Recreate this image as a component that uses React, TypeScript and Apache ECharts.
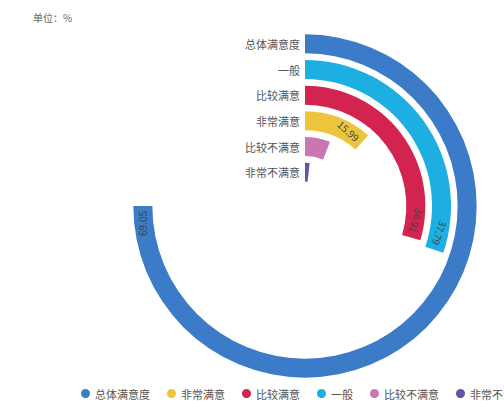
import React, { useEffect, useRef } from "react";
import * as echarts from "echarts";

// radial order, outermost first
const categories = ["总体满意度", "一般", "比较满意", "非常满意", "比较不满意", "非常不满意"];
// legend / series order
const seriesNames = ["总体满意度", "非常满意", "比较满意", "一般", "比较不满意", "非常不满意"];
// arc length of each bar as drawn (percent of a full turn)
const arcValues = [75, 11.6, 29.6, 30.2, 5.9, 1.7];
// printed value labels
const labelValues = ["69.05", "15.99", "36.91", "37.79", "", ""];
const colors = ["#3b7bc7", "#ecc43e", "#d3234f", "#1eafe2", "#c877b2", "#5c5aa7"];
const unitTitle = "单位：%";

const FONT = "'Noto Sans CJK SC', 'Noto Sans', sans-serif";

export default function App() {
  const ref = useRef<HTMLDivElement>(null);
  useEffect(() => {
    document.body.style.margin = "0";
    document.body.style.overflow = "hidden";
    const chart = echarts.init(ref.current!, undefined, { renderer: "svg" });
    const series = seriesNames.map((name, i) => {
      const idx = categories.indexOf(name);
      const data = categories.map((_, j) => (j === idx ? arcValues[i] : null));
      return {
        type: "bar",
        name,
        coordinateSystem: "polar",
        stack: "all",
        barWidth: 19,
        itemStyle: { color: colors[i] },
        data,
        label: {
          show: labelValues[i] !== "",
          position: "insideEnd",
          formatter: () => labelValues[i],
          color: "#444",
          fontSize: 10,
          fontFamily: FONT,
        },
      };
    });
    chart.setOption({
      animation: false,
      textStyle: { fontFamily: FONT },
      title: {
        text: unitTitle,
        left: 28,
        top: 7,
        textStyle: { fontSize: 10, color: "#666", fontWeight: "normal", fontFamily: FONT },
      },
      polar: { center: [305, 206], radius: [21, 175] },
      angleAxis: {
        type: "value",
        min: 0,
        max: 100,
        startAngle: 90,
        clockwise: true,
        axisLine: { show: false },
        axisTick: { show: false },
        axisLabel: { show: false },
        splitLine: { show: false },
      },
      radiusAxis: {
        type: "category",
        data: categories,
        inverse: true,
        axisLine: { show: false },
        axisTick: { show: false },
        splitLine: { show: false },
        axisLabel: { interval: 0, color: "#555", fontSize: 11, margin: 5, fontFamily: FONT },
        z: 10,
      },
      legend: {
        data: seriesNames,
        left: 76,
        top: 383,
        width: 1000,
        icon: "circle",
        itemWidth: 9,
        itemHeight: 9,
        itemGap: 17,
        textStyle: { fontSize: 11, color: "#555", fontFamily: FONT },
      },
      series,
    });
    return () => chart.dispose();
  }, []);
  return <div ref={ref} style={{ width: 504, height: 401 }} />;
}
